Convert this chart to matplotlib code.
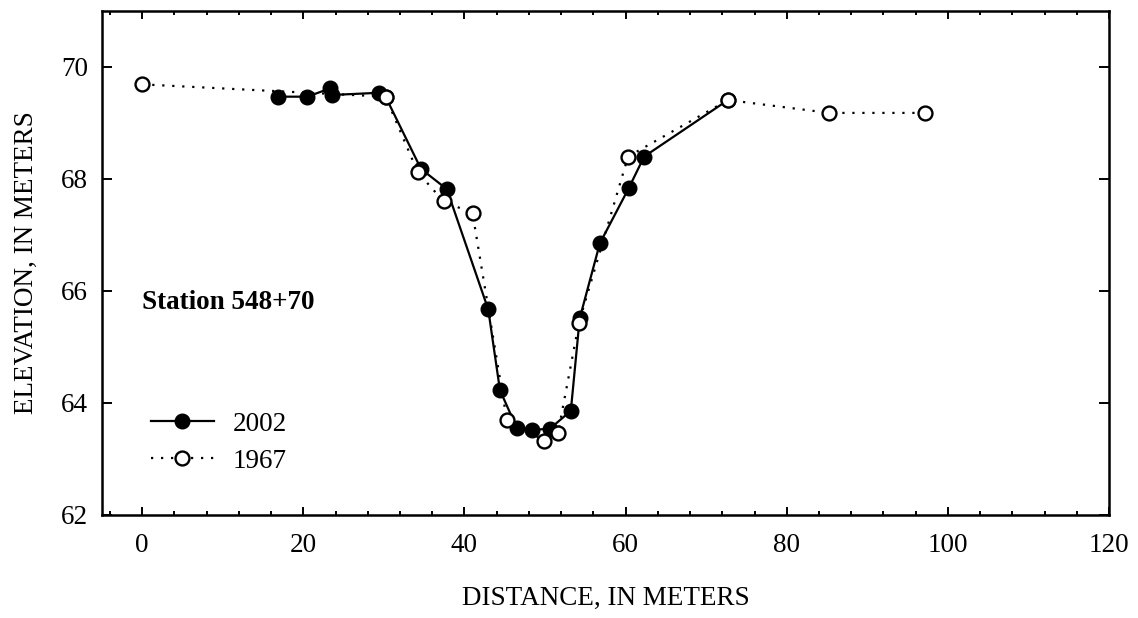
import matplotlib
matplotlib.use("Agg")
import matplotlib.pyplot as plt
from matplotlib.ticker import MultipleLocator

plt.rcParams['font.family'] = ['Liberation Serif', 'DejaVu Serif']

# Survey of 2002
dist_2002 = [16.9, 20.5, 23.35, 23.5, 29.45, 30.2, 34.6, 37.8, 42.95, 44.4,
             46.5, 48.4, 50.6, 53.2, 54.3, 56.8, 60.4, 62.3, 72.7]
elev_2002 = [69.47, 69.47, 69.62, 69.50, 69.54, 69.47, 68.18, 67.82, 65.67, 64.23,
             63.55, 63.52, 63.54, 63.86, 65.51, 66.85, 67.84, 68.40, 69.41]

# Survey of 1967
dist_1967 = [0.0, 30.2, 34.2, 37.4, 41.0, 45.25, 49.9, 51.6, 54.2, 60.3, 72.7, 85.3, 97.2]
elev_1967 = [69.69, 69.47, 68.12, 67.60, 67.39, 63.70, 63.32, 63.46, 65.43, 68.40,
             69.41, 69.18, 69.18]

x_ticks = [0, 20, 40, 60, 80, 100, 120]
y_ticks = [62, 64, 66, 68, 70]
station_label = "Station 548+70"

fs = 19.5
fig = plt.figure(figsize=(11.38, 6.18), dpi=100)
ax = fig.add_axes([0.0896, 0.1667, 0.8849, 0.8155])

ax.plot(dist_2002, elev_2002, color='black', linestyle='-', linewidth=1.6,
        marker='o', markersize=10.5, markerfacecolor='black', markeredgecolor='black',
        label='2002', zorder=3)
ax.plot(dist_1967, elev_1967, color='black', linestyle=(0, (1, 3.5)), linewidth=1.6,
        marker='o', markersize=10, markerfacecolor='white', markeredgecolor='black',
        markeredgewidth=1.7, label='1967', zorder=4)

ax.set_xlim(-5, 120)
ax.set_ylim(62, 71)
ax.set_xticks(x_ticks)
ax.set_yticks(y_ticks)
ax.xaxis.set_minor_locator(MultipleLocator(4))

for s in ax.spines.values():
    s.set_linewidth(1.8)

ax.tick_params(axis='both', which='both', direction='in', top=True, right=True,
               width=1.4, labelsize=fs)
ax.tick_params(axis='x', which='major', length=5.5, pad=13)
ax.tick_params(axis='x', which='minor', length=3)
ax.tick_params(axis='y', which='major', length=7.5, pad=10)

ax.set_xlabel('DISTANCE, IN METERS', fontsize=fs, labelpad=20)
ax.set_ylabel('ELEVATION, IN METERS', fontsize=fs, labelpad=16)

ax.text(0, 65.8, station_label, fontsize=fs, fontweight='bold', ha='left', va='center')

leg = ax.legend(loc='upper left', bbox_to_anchor=(0.049, 0.205), frameon=False,
                fontsize=fs, handlelength=2.3, handletextpad=0.7, labelspacing=0.45,
                borderpad=0, borderaxespad=0)

fig.savefig('out.png', dpi=100)
